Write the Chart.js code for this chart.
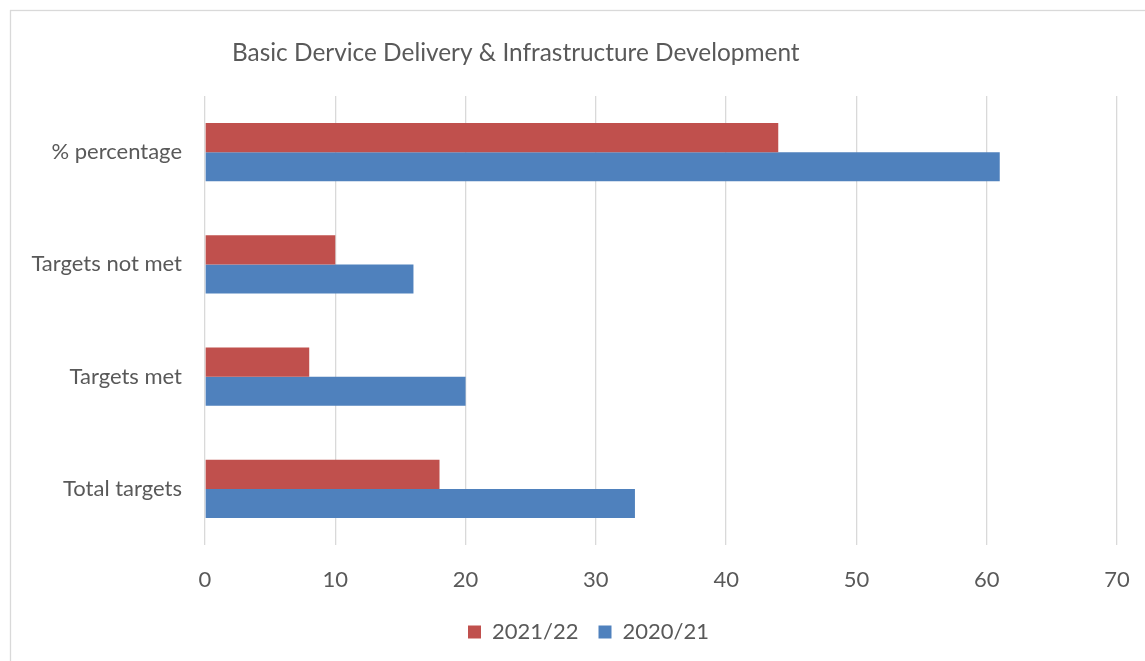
<!DOCTYPE html>
<html>
<head>
<meta charset="utf-8">
<script src="https://cdn.jsdelivr.net/npm/chart.js@4/dist/chart.umd.min.js"></script>
<style>
  html, body { margin: 0; padding: 0; background: #fff; overflow: hidden; }
  #wrap { position: relative; width: 1145px; height: 661px; }
</style>
</head>
<body>
<div id="wrap"><canvas id="c" width="1145" height="661"></canvas></div>
<script>
const titleText = 'Basic Dervice Delivery & Infrastructure Development';
const categories = ['% percentage', 'Targets not met', 'Targets met', 'Total targets'];
const series2021 = [44, 10, 8, 18];
const series2020 = [61, 16, 20, 33];
const seriesNames = ['2021/22', '2020/21'];
const xTicks = [0, 10, 20, 30, 40, 50, 60, 70];

const FONT = 'Lato, "Open Sans", sans-serif';
const TXT = '#595959';

const framePlugin = {
  id: 'frame',
  afterLayout(chart) {
    const lg = chart.legend;
    if (lg) { lg.left += 25; lg.right += 25; }
  },
  beforeDraw(chart) {
    const ctx = chart.ctx;
    ctx.save();
    ctx.fillStyle = '#fff';
    ctx.fillRect(0, 0, chart.width, chart.height);
    ctx.strokeStyle = '#d9d9d9';
    ctx.lineWidth = 1.3;
    ctx.strokeRect(10.5, 10.5, 1200, 700);
    ctx.restore();
  },
  afterDraw(chart) {
    const ctx = chart.ctx;
    ctx.save();
    ctx.fillStyle = TXT;
    ctx.font = '24.4px ' + FONT;
    ctx.textBaseline = 'middle';
    ctx.textAlign = 'left';
    ctx.fillText(titleText, 232, 53);
    ctx.restore();
  }
};

new Chart(document.getElementById('c'), {
  type: 'bar',
  data: {
    labels: categories,
    datasets: [
      { label: seriesNames[0], data: series2021, backgroundColor: '#C0504D', borderWidth: 0 },
      { label: seriesNames[1], data: series2020, backgroundColor: '#4F81BD', borderWidth: 0 }
    ]
  },
  options: {
    indexAxis: 'y',
    responsive: false,
    animation: false,
    devicePixelRatio: 1,
    categoryPercentage: 0.52,
    barPercentage: 1.0,
    layout: { padding: { top: 96, left: 10, right: 28, bottom: 8 } },
    plugins: {
      title: { display: false },
      tooltip: { enabled: false },
      legend: {
        position: 'bottom',
        labels: {
          font: { family: FONT, size: 22 },
          color: TXT,
          boxWidth: 13,
          boxHeight: 13,
          padding: 20
        }
      }
    },
    scales: {
      x: {
        min: 0, max: 70,
        afterBuildTicks(scale) { scale.ticks = xTicks.map(v => ({ value: v })); },
        afterFit(scale) { scale.height = 56; scale.paddingRight = 0; scale.paddingLeft = 0; },
        grid: { color: '#d9d9d9', lineWidth: 1.3, drawTicks: false },
        border: { display: false },
        ticks: { font: { family: FONT, size: 22 }, color: TXT, padding: 22 }
      },
      y: {
        afterFit(scale) { scale.width = 195; scale.paddingTop = 0; scale.paddingBottom = 0; },
        grid: { display: false, drawTicks: false },
        border: { display: false },
        ticks: { font: { family: FONT, size: 22 }, color: TXT, padding: 23 }
      }
    }
  },
  plugins: [framePlugin]
});
</script>
</body>
</html>
